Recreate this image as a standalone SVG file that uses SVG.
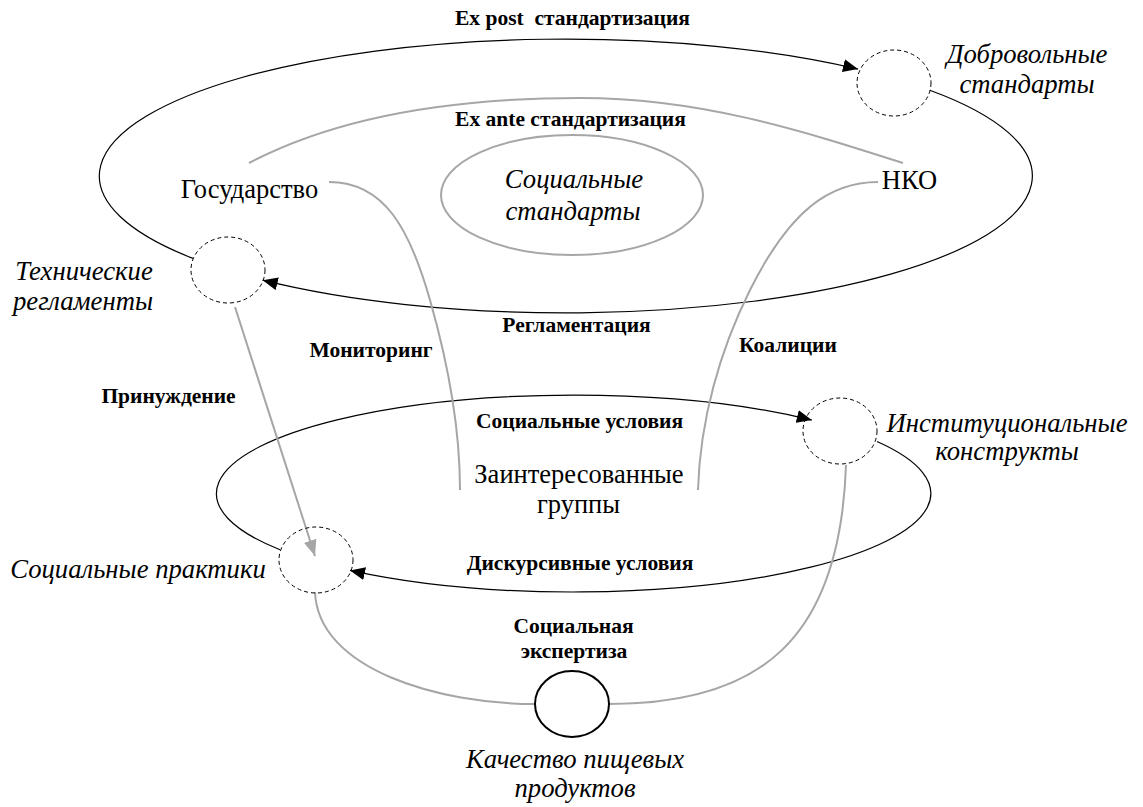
<svg xmlns="http://www.w3.org/2000/svg" width="1143" height="807" viewBox="0 0 1143 807">
<style>
text{font-family:"Liberation Serif","Times New Roman",serif;fill:#000;text-anchor:middle}
.lb{font-weight:bold;font-size:21.5px}
.rg{font-size:26.5px}
.it{font-style:italic;font-size:26.7px}
.blk{fill:none;stroke:#000;stroke-width:1.2}
.gry{fill:none;stroke:#a6a6a6;stroke-width:2}
.dash{fill:none;stroke:#000;stroke-width:1;stroke-dasharray:4 3}
</style>
<defs>
<marker id="ab" markerUnits="userSpaceOnUse" markerWidth="16" markerHeight="14" refX="15" refY="6.5" orient="auto">
<path d="M0,0 L15,6.5 L0,13 z" fill="#000"/>
</marker>
<marker id="ag" markerUnits="userSpaceOnUse" markerWidth="18" markerHeight="14" refX="16" refY="6.5" orient="auto">
<path d="M0,0 L16,6.5 L0,13 z" fill="#a6a6a6"/>
</marker>
</defs>
<rect width="1143" height="807" fill="#fff"/>

<g id="connectors">
<path class="blk" d="M193,258.4 A467,137 0 0 1 858,69.1" marker-end="url(#ab)"/>
<path class="blk" d="M929.8,90.2 A467,137 0 0 1 262.7,280.2" marker-end="url(#ab)"/>
<path class="blk" d="M280,549.7 A357.5,98.5 0 0 1 811.8,420.1" marker-end="url(#ab)"/>
<path class="blk" d="M877,441.5 A357.5,98.5 0 0 1 350,570.4" marker-end="url(#ab)"/>
<path class="gry" d="M249,163 C350,110 480,98 580,98 C700,98 800,130 903,163"/>
<path class="gry" d="M329,182 C385,182 410,230 430,300 C450,370 460,430 460,490"/>
<path class="gry" d="M878,182 C830,182 790,210 750,290 C720,350 700,420 698,490"/>
<path class="gry" d="M315,592 C318,670 440,704 535,704"/>
<path class="gry" d="M609,704 C760,704 840,640 846,465"/>
<path class="gry" stroke-width="2.5" d="M235,307 L315,556" marker-end="url(#ag)"/>
</g>

<g id="social-standards">
<ellipse cx="572" cy="195" rx="131" ry="60" fill="none" stroke="#a6a6a6" stroke-width="2"/>
<text class="it" x="574" y="188">Социальные</text>
<text class="it" x="573" y="220">стандарты</text>
</g>
<g id="tech-regs">
<ellipse class="dash" cx="228" cy="270" rx="37" ry="33"/>
<text class="it" x="84" y="280">Технические</text>
<text class="it" x="83" y="310">регламенты</text>
</g>
<g id="voluntary">
<ellipse class="dash" cx="894" cy="83" rx="37" ry="33"/>
<text class="it" x="1027" y="63">Добровольные</text>
<text class="it" x="1027" y="93">стандарты</text>
</g>
<g id="institutional">
<ellipse class="dash" cx="840" cy="431" rx="37" ry="33"/>
<text class="it" x="1007" y="432">Институциональные</text>
<text class="it" x="1007" y="460">конструкты</text>
</g>
<g id="practices">
<ellipse class="dash" cx="316" cy="560" rx="37" ry="33"/>
<text class="it" x="138" y="578">Социальные практики</text>
</g>
<g id="food-quality">
<ellipse cx="572" cy="704" rx="37" ry="33" fill="#fff" stroke="#000" stroke-width="2"/>
<text class="it" x="575" y="768">Качество пищевых</text>
<text class="it" x="575" y="797">продуктов</text>
</g>
<g id="state"><text class="rg" x="249.5" y="198">Государство</text></g>
<g id="ngo"><text class="rg" x="909.5" y="189">НКО</text></g>
<g id="stakeholders">
<text class="rg" x="579" y="483">Заинтересованные</text>
<text class="rg" x="578.5" y="513">группы</text>
</g>

<g id="labels">
<text class="lb" x="572.5" y="25" xml:space="preserve">Ex post  стандартизация</text>
<text class="lb" x="570.5" y="126">Ex ante стандартизация</text>
<text class="lb" x="576.5" y="332">Регламентация</text>
<text class="lb" x="371" y="357">Мониторинг</text>
<text class="lb" x="788" y="352">Коалиции</text>
<text class="lb" x="168.5" y="403">Принуждение</text>
<text class="lb" x="579.5" y="428">Социальные условия</text>
<text class="lb" x="580" y="570">Дискурсивные условия</text>
<text class="lb" x="573.5" y="633">Социальная</text>
<text class="lb" x="574" y="658">экспертиза</text>
</g>
</svg>
